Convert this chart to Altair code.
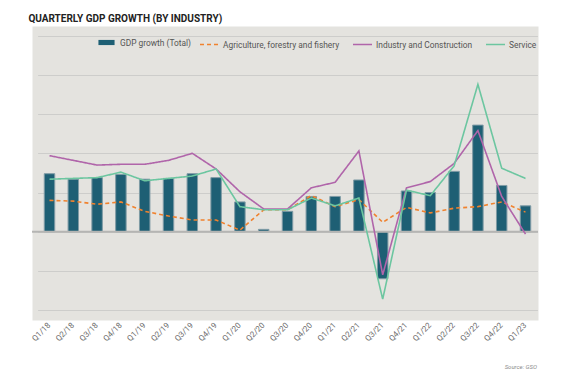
import altair as alt
import pandas as pd

quarters = ["Q1/18", "Q2/18", "Q3/18", "Q4/18", "Q1/19", "Q2/19", "Q3/19", "Q4/19",
            "Q1/20", "Q2/20", "Q3/20", "Q4/20", "Q1/21", "Q2/21", "Q3/21", "Q4/21",
            "Q1/22", "Q2/22", "Q3/22", "Q4/22", "Q1/23"]
gdp_total = [7.4, 6.7, 6.9, 7.3, 6.7, 6.8, 7.4, 6.9, 3.8, 0.3, 2.6, 4.5,
             4.5, 6.6, -6.0, 5.2, 5.0, 7.7, 13.6, 5.9, 3.3]
agriculture = [4.0, 3.9, 3.5, 3.8, 2.6, 2.0, 1.5, 1.5, 0.2, 2.8, 2.8, 4.6,
               3.2, 4.1, 1.2, 3.1, 2.4, 3.0, 3.2, 3.8, 2.5]
industry = [9.7, 9.1, 8.5, 8.6, 8.6, 9.1, 10.0, 8.0, 5.1, 2.9, 2.9, 5.6,
            6.3, 10.3, -5.5, 5.6, 6.4, 8.7, 12.9, 4.5, -0.3]
service = [6.7, 6.8, 6.9, 7.6, 6.5, 6.8, 7.1, 8.0, 3.2, 2.8, 2.8, 4.3,
           3.3, 4.3, -8.6, 5.3, 4.6, 8.4, 18.8, 8.1, 6.8]

series_names = ["Agriculture, forestry and fishery", "Industry and Construction", "Service"]
series_colors = ["#f0822e", "#b065aa", "#6cc6a0"]
series_dash = [[4, 3], [1, 0], [1, 0]]
bar_name = "GDP growth (Total)"

bars_df = pd.DataFrame({"quarter": quarters, "value": gdp_total, "series": bar_name})
rows = []
for name, vals in zip(series_names, [agriculture, industry, service]):
    for q, v in zip(quarters, vals):
        rows.append({"quarter": q, "value": v, "series": name})
lines_df = pd.DataFrame(rows)

W, H = 506, 294
x_scale = alt.Scale(domain=quarters, range=[5.6, 505.4], paddingInner=0.56, paddingOuter=0.28)
y_scale = alt.Scale(domain=[-11.26, 26.24], nice=False, zero=False)

x_axis = alt.Axis(title=None, labelAngle=-45, labelAlign="right", labelBaseline="middle",
                  labelColor="#6a6a6a", labelFontSize=8, labelPadding=4, domain=False,
                  ticks=False, grid=False, labelFont="Roboto")
y_axis = alt.Axis(title=None, labels=False, ticks=False, domain=False, grid=True,
                  values=[-10, -5, 0, 5, 10, 15, 20, 25], gridColor="#cdcdcb", gridWidth=1.2)

legend_common = dict(title=None, orient="none", labelFontSize=8.4, labelColor="#555555",
                     labelFont="Roboto", legendY=8)

bars = alt.Chart(bars_df).mark_bar(stroke="#7f9ba5", strokeWidth=1).encode(
    x=alt.X("quarter:N", scale=x_scale, axis=x_axis, sort=quarters),
    y=alt.Y("value:Q", scale=y_scale, axis=y_axis),
    fill=alt.Fill("series:N", scale=alt.Scale(domain=[bar_name], range=["#1e5f74"]),
                  legend=alt.Legend(legendX=66, symbolType="M-1,-0.32H1V0.32H-1Z",
                                    symbolSize=260, symbolStrokeWidth=0, labelOffset=5,
                                    **legend_common)),
)

zero = alt.Chart(pd.DataFrame({"v": [0]})).mark_rule(color="#b5b5b3", strokeWidth=2).encode(
    y=alt.Y("v:Q", scale=y_scale)
)

line_legend = alt.Legend(direction="horizontal", legendX=167, symbolType="stroke",
                         symbolSize=361, symbolStrokeWidth=1.6, labelOffset=3,
                         columnPadding=9, **legend_common)

lines = alt.Chart(lines_df).mark_line(strokeWidth=1.6).encode(
    x=alt.X("quarter:N", scale=x_scale, sort=quarters),
    y=alt.Y("value:Q", scale=y_scale),
    stroke=alt.Stroke("series:N", scale=alt.Scale(domain=series_names, range=series_colors),
                      legend=line_legend),
    strokeDash=alt.StrokeDash("series:N", scale=alt.Scale(domain=series_names, range=series_dash),
                              legend=line_legend),
)

source = alt.Chart(pd.DataFrame({"t": ["Source: GSO"]})).mark_text(
    align="right", baseline="middle", fontSize=6, fontStyle="italic", color="#8a8a8a",
    font="Roboto"
).encode(text="t:N", x=alt.value(W - 1), y=alt.value(H + 47))

chart = alt.layer(bars, zero, lines, source).properties(
    width=W, height=H,
    padding={"left": 20, "top": 6, "right": 4, "bottom": 5},
    title=alt.TitleParams("QUARTERLY GDP GROWTH (BY INDUSTRY)", anchor="start", fontSize=10,
                          font="Roboto", fontWeight="bold", color="#222222", offset=2, dx=-2),
).configure_view(fill="#e4e3df", stroke="transparent")

chart.save("out.html", embed_options={"renderer": "svg", "actions": False})
